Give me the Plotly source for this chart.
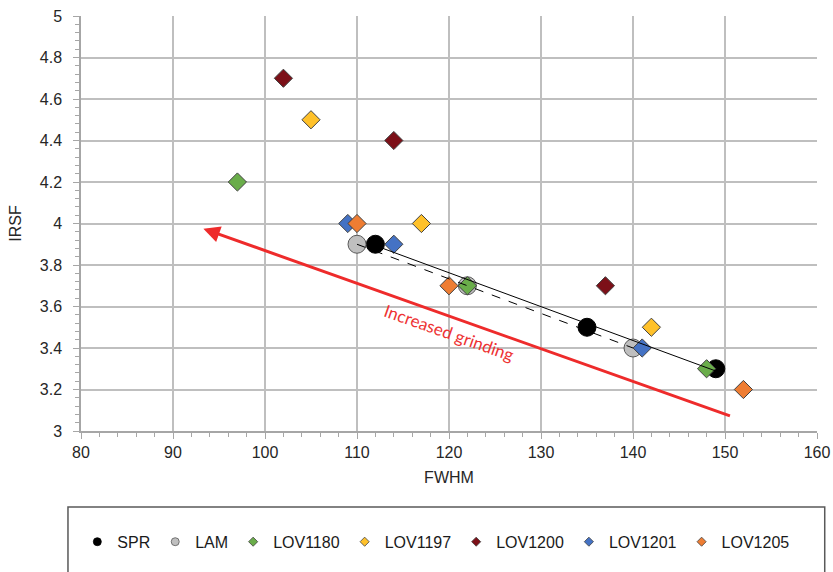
import numpy as np
import plotly.graph_objects as go

# FWHM / IRSF measurements per sample
spr_x = [112, 135, 149]
spr_y = [3.9, 3.5, 3.3]
lam_x = [110, 122, 140]
lam_y = [3.9, 3.7, 3.4]
lov1180_x = [97, 122, 148]
lov1180_y = [4.2, 3.7, 3.3]
lov1197_x = [105, 117, 142]
lov1197_y = [4.5, 4.0, 3.5]
lov1200_x = [102, 114, 137]
lov1200_y = [4.7, 4.4, 3.7]
lov1201_x = [109, 114, 141]
lov1201_y = [4.0, 3.9, 3.4]
lov1205_x = [110, 120, 152]
lov1205_y = [4.0, 3.7, 3.2]

# grinding-direction arrow (tail -> head, data units)
arrow_tail = (150.7, 3.07)
arrow_head = (93.3, 3.975)
arrow_label = "Increased grinding"
arrow_label_pos = (120.0, 3.475)

series = [
    ("SPR", spr_x, spr_y, "circle", "#000000", "#000000"),
    ("LAM", lam_x, lam_y, "circle", "#bfbfbf", "#595959"),
    ("LOV1180", lov1180_x, lov1180_y, "diamond", "#6aad4a", "#404040"),
    ("LOV1197", lov1197_x, lov1197_y, "diamond", "#ffc12a", "#404040"),
    ("LOV1200", lov1200_x, lov1200_y, "diamond", "#7c1018", "#404040"),
    ("LOV1201", lov1201_x, lov1201_y, "diamond", "#4472c4", "#404040"),
    ("LOV1205", lov1205_x, lov1205_y, "diamond", "#ee7d33", "#404040"),
]

fig = go.Figure()

# data markers (large) without legend entries
for name, xs, ys, sym, fill, edge in series:
    size = 18 if sym == "circle" else 14
    fig.add_trace(go.Scatter(
        x=xs, y=ys, mode="markers", name=name, showlegend=False,
        marker=dict(symbol=sym, size=size, color=fill,
                    line=dict(color=edge, width=1)),
    ))

# linear trend lines for SPR (solid) and LAM (dashed), drawn over markers
for xs, ys, dash in [(spr_x, spr_y, "solid"), (lam_x, lam_y, "dash")]:
    k, b = np.polyfit(xs, ys, 1)
    tx = np.array([min(xs), max(xs)])
    fig.add_trace(go.Scatter(
        x=tx, y=k * tx + b, mode="lines", showlegend=False,
        line=dict(color="#000000", width=1, dash=dash), hoverinfo="skip",
    ))

# small legend-only markers
for name, xs, ys, sym, fill, edge in series:
    fig.add_trace(go.Scatter(
        x=[None], y=[None], mode="markers", name=name,
        marker=dict(symbol=sym, size=8 if sym == "circle" else 7, color=fill,
                    line=dict(color=edge, width=0.8)),
    ))

fig.add_annotation(
    x=arrow_head[0], y=arrow_head[1], ax=arrow_tail[0], ay=arrow_tail[1],
    xref="x", yref="y", axref="x", ayref="y", text="", showarrow=True,
    arrowhead=2, arrowsize=1.1, arrowwidth=3, arrowcolor="#ee2b2b",
)
fig.add_annotation(
    x=arrow_label_pos[0], y=arrow_label_pos[1], xref="x", yref="y",
    text=arrow_label, showarrow=False, textangle=19.5,
    font=dict(family="Lato", size=17, color="#ee3333"),
)

# legend frame
fig.add_shape(type="rect", xref="paper", yref="paper",
              x0=-0.0177, x1=1.0105, y0=-0.183, y1=-0.45,
              line=dict(color="#595959", width=1.5), fillcolor="rgba(0,0,0,0)")

axis_common = dict(
    showgrid=True, gridcolor="#bfbfbf", gridwidth=1.5,
    showline=True, linecolor="#a6a6a6", linewidth=1.5,
    ticks="outside", ticklen=6, tickcolor="#a6a6a6", tickwidth=1,
    zeroline=False, mirror=False, automargin=True,
    tickfont=dict(family="Liberation Sans", size=16, color="#262626"),
    title_font=dict(family="Liberation Sans", size=16, color="#262626"),
)

fig.update_xaxes(
    range=[80, 160], dtick=10, title_text="FWHM", title_standoff=12,
    minor=dict(dtick=2, ticks="outside", ticklen=4, tickcolor="#a6a6a6", showgrid=False),
    **axis_common,
)
fig.update_yaxes(
    range=[3, 5], dtick=0.2, title_text="IRSF", title_standoff=14,
    ticklabelstandoff=8,
    minor=dict(dtick=0.04, ticks="outside", ticklen=4, tickcolor="#a6a6a6", showgrid=False),
    **axis_common,
)

fig.update_layout(
    width=833, height=572,
    margin=dict(l=81, r=16, t=16, b=141, autoexpand=False),
    paper_bgcolor="white", plot_bgcolor="white",
    legend=dict(orientation="h", x=-0.005, xanchor="left", y=-0.267, yanchor="middle",
                font=dict(family="Liberation Sans", size=16, color="#1a1a1a"),
                itemsizing="trace", bgcolor="rgba(0,0,0,0)", tracegroupgap=0),
    showlegend=True,
)

fig.write_html("out.html")
